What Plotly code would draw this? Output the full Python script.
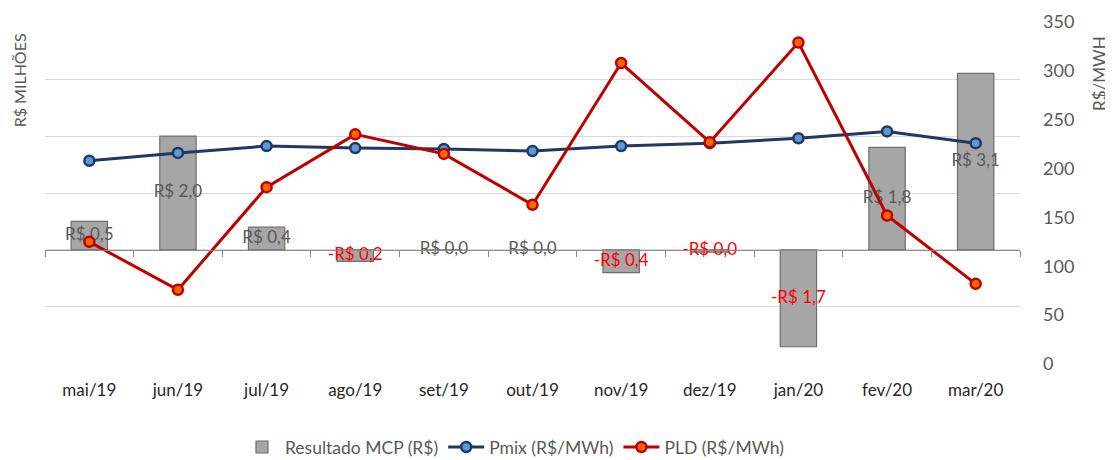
import plotly.graph_objects as go

months = ["mai/19", "jun/19", "jul/19", "ago/19", "set/19", "out/19",
          "nov/19", "dez/19", "jan/20", "fev/20", "mar/20"]
mcp = [0.5, 2.0, 0.4, -0.2, 0.0, 0.0, -0.4, -0.04, -1.7, 1.8, 3.1]
pmix = [208, 216, 223, 221, 220, 218, 223, 226, 231, 238, 226]
pld = [125, 76, 181, 235, 215, 163, 308, 227, 329, 152, 82]


def fmt(v):
    s = f"R$ {abs(v):.1f}".replace(".", ",")
    return ("-" + s) if v < 0 else s


labels = [fmt(v) for v in mcp]
label_colors = ["#FF0000" if v < 0 else "#595959" for v in mcp]

FONT = "Lato"

fig = go.Figure()
fig.add_trace(go.Bar(
    x=months, y=mcp, name="Resultado MCP (R$)", width=0.41,
    marker=dict(color="#A6A6A6", line=dict(color="#6E6E6E", width=1.2)),
    xaxis="x", yaxis="y",
))
fig.add_trace(go.Scatter(
    x=months, y=[v / 2 for v in mcp], mode="text", text=labels,
    textposition="middle center",
    textfont=dict(family=FONT, size=17, color=label_colors),
    showlegend=False, hoverinfo="skip", xaxis="x", yaxis="y",
))
fig.add_trace(go.Scatter(
    x=months, y=pmix, name="Pmix (R$/MWh)", mode="lines+markers",
    line=dict(color="#1F3864", width=3),
    marker=dict(size=10, color="#5B9BD5", line=dict(color="#1F3864", width=2.5)),
    xaxis="x2", yaxis="y2",
))
fig.add_trace(go.Scatter(
    x=months, y=pld, name="PLD (R$/MWh)", mode="lines+markers",
    line=dict(color="#C00000", width=3),
    marker=dict(size=10, color="#FF6600", line=dict(color="#C00000", width=2.5)),
    xaxis="x2", yaxis="y2",
))

fig.update_layout(
    width=1105, height=452,
    margin=dict(l=37, r=93, t=14, b=96, autoexpand=False),
    paper_bgcolor="white", plot_bgcolor="white",
    font=dict(family=FONT, color="#595959"),
    bargap=0.59,
    xaxis=dict(
        type="category", categoryorder="array", categoryarray=months,
        range=[-0.5, 10.5], showline=False, showgrid=False, ticks="",
        tickfont=dict(family=FONT, size=17, color="#262626"),
        ticklabelstandoff=14, automargin=False,
    ),
    xaxis2=dict(
        type="category", categoryorder="array", categoryarray=months,
        range=[-0.5, 10.5], overlaying="x", anchor="free", position=1 / 3,
        side="bottom", showline=True, linecolor="#8C8C8C", linewidth=1.3,
        ticks="outside", tickson="boundaries", ticklen=6, tickcolor="#8C8C8C",
        tickwidth=1.3, showticklabels=False, showgrid=False, automargin=False,
    ),
    yaxis=dict(
        range=[-2.003, 4.003], tickvals=[-2, -1, 0, 1, 2, 3, 4],
        showticklabels=False, showgrid=True,
        gridcolor="#D9D9D9", gridwidth=1.2, zeroline=False, showline=False,
        ticks="", automargin=False,
    ),
    yaxis2=dict(
        range=[0, 350], dtick=50, overlaying="y", side="right",
        showgrid=False, zeroline=False, showline=False, ticks="",
        tickfont=dict(family=FONT, size=18, color="#595959"),
        ticklabelstandoff=22, automargin=False,
    ),
    legend=dict(
        orientation="h", x=0.481, xanchor="center", y=-0.243, yanchor="middle",
        font=dict(family=FONT, size=17.5, color="#595959"),
        itemwidth=36, tracegroupgap=0,
    ),
    annotations=[
        dict(text="R$ MILHÕES", xref="paper", yref="paper", x=-0.0265, y=0.83,
             textangle=-90, showarrow=False, xanchor="center", yanchor="middle",
             font=dict(family=FONT, size=16, color="#595959")),
        dict(text="R$/MWH", xref="paper", yref="paper", x=1.082, y=0.851,
             textangle=-90, showarrow=False, xanchor="center", yanchor="middle",
             font=dict(family=FONT, size=17, color="#595959")),
    ],
)

fig.write_html("out.html")
